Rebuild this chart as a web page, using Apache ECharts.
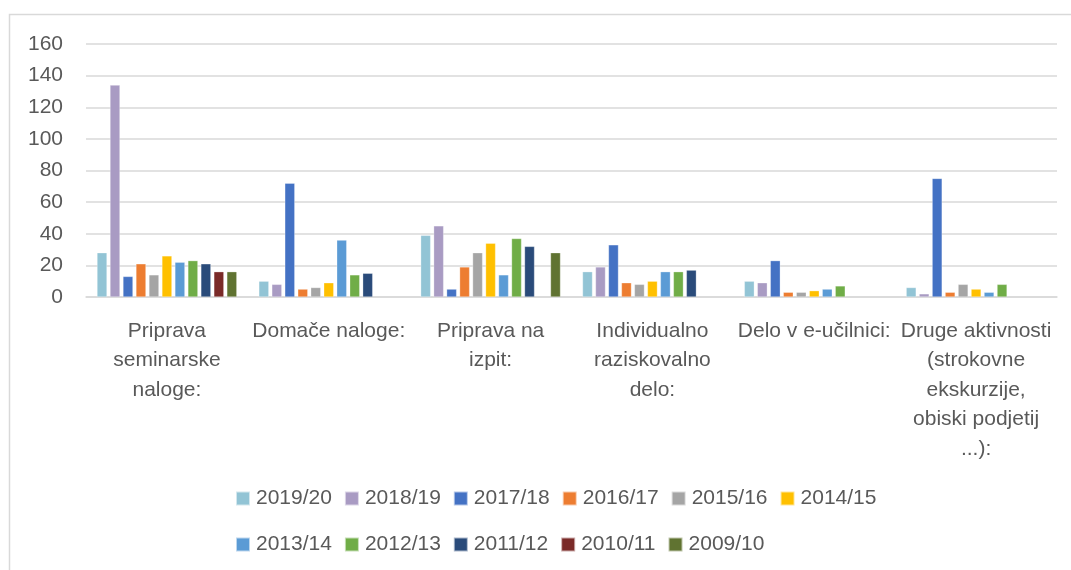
<!DOCTYPE html>
<html>
<head>
<meta charset="utf-8">
<script src="https://cdn.jsdelivr.net/npm/echarts@6/dist/echarts.min.js"></script>
<style>html,body{margin:0;padding:0;background:#fff}#c{width:1071px;height:570px}</style>
</head>
<body>
<div id="c"></div>
<script>
const categories = [
  "Priprava\nseminarske\nnaloge:",
  "Domače naloge:",
  "Priprava na\nizpit:",
  "Individualno\nraziskovalno\ndelo:",
  "Delo v e-učilnici:",
  "Druge aktivnosti\n(strokovne\nekskurzije,\nobiski podjetij\n...):"
];
const seriesNames = ["2019/20","2018/19","2017/18","2016/17","2015/16","2014/15","2013/14","2012/13","2011/12","2010/11","2009/10"];
const s2019_20 = [28, 10, 39, 16, 10, 6];
const s2018_19 = [134, 8, 45, 19, 9, 2];
const s2017_18 = [13, 72, 5, 33, 23, 75];
const s2016_17 = [21, 5, 19, 9, 3, 3];
const s2015_16 = [14, 6, 28, 8, 3, 8];
const s2014_15 = [26, 9, 34, 10, 4, 5];
const s2013_14 = [22, 36, 14, 16, 5, 3];
const s2012_13 = [23, 14, 37, 16, 7, 8];
const s2011_12 = [21, 15, 32, 17, null, null];
const s2010_11 = [16, null, null, null, null, null];
const s2009_10 = [16, null, 28, null, null, null];
const seriesValues = [s2019_20, s2018_19, s2017_18, s2016_17, s2015_16, s2014_15, s2013_14, s2012_13, s2011_12, s2010_11, s2009_10];
const colors = ["#92C4D5","#A99BC3","#4472C4","#ED7D31","#A5A5A5","#FFC000","#5B9BD5","#70AD47","#2A4B7A","#7A2A28","#607331"];

const font = "'Liberation Sans', Arial, sans-serif";
const chart = echarts.init(document.getElementById('c'));
const legendText = {fontSize: 21, color: '#595959', fontFamily: font, padding: [0, 0, 0, 1]};
chart.setOption({
  animation: false,
  color: colors,
  graphic: [{
    type: 'rect', shape: {x: 9.5, y: 14.5, width: 1100, height: 600},
    style: {fill: 'none', stroke: '#D9D9D9', lineWidth: 1.5}, silent: true
  }],
  grid: {left: 86, right: 14, top: 44, bottom: 273, containLabel: false},
  legend: [
    {data: seriesNames.slice(0, 6), left: 230, top: 483, itemWidth: 14, itemHeight: 14, itemGap: 12,
     icon: 'rect', textStyle: legendText},
    {data: seriesNames.slice(6), left: 230, top: 529, itemWidth: 14, itemHeight: 14, itemGap: 12,
     icon: 'rect', textStyle: legendText}
  ],
  xAxis: {
    type: 'category', data: categories,
    axisLine: {lineStyle: {color: '#D9D9D9', width: 1.5}},
    axisTick: {show: false},
    axisLabel: {interval: 0, fontSize: 21, color: '#595959', fontFamily: font, lineHeight: 29.5, margin: 19}
  },
  yAxis: {
    type: 'value', min: 0, max: 160, interval: 20,
    axisLine: {show: false}, axisTick: {show: false},
    splitLine: {lineStyle: {color: '#D9D9D9', width: 1.5}},
    axisLabel: {fontSize: 21, color: '#595959', fontFamily: font, margin: 23}
  },
  series: seriesNames.map((n, i) => ({
    name: n, type: 'bar', data: seriesValues[i],
    barGap: '30%', barCategoryGap: '13.6%',
    itemStyle: {borderColor: 'rgba(255,255,255,0.6)', borderWidth: 0.5}
  }))
});
</script>
</body>
</html>
